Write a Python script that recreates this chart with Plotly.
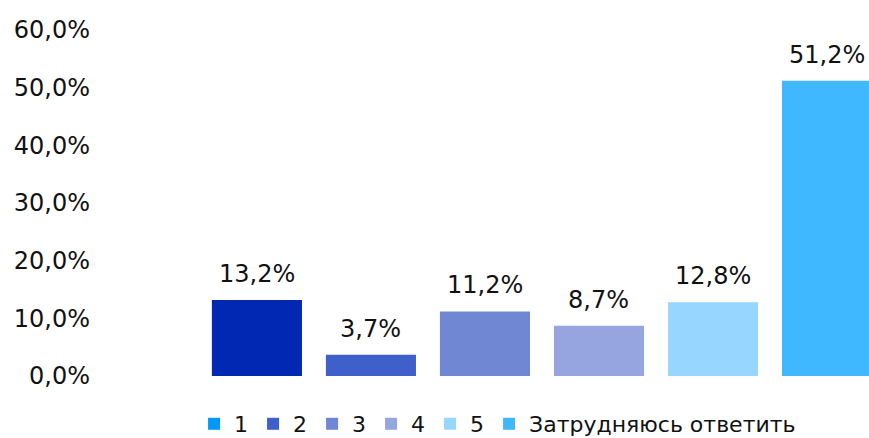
import plotly.graph_objects as go

categories = ["1", "2", "3", "4", "5", "Затрудняюсь ответить"]
values = [13.2, 3.7, 11.2, 8.7, 12.8, 51.2]
value_labels = ["13,2%", "3,7%", "11,2%", "8,7%", "12,8%", "51,2%"]
bar_colors = ["#0028B2", "#3F5FCB", "#7088D4", "#96A5E0", "#96D6FF", "#3FB8FF"]
legend_colors = ["#0099FA", "#3F5FCB", "#7088D4", "#96A5E0", "#96D6FF", "#3FB8FF"]
y_ticks = [0, 10, 20, 30, 40, 50, 60]
y_tick_labels = ["0,0%", "10,0%", "20,0%", "30,0%", "40,0%", "50,0%", "60,0%"]

FONT = "Verdana, DejaVu Sans, sans-serif"

fig = go.Figure()
xs = list(range(len(categories)))
fig.add_trace(go.Bar(x=xs, y=values, marker=dict(color=bar_colors, line=dict(width=0)),
                     width=0.79, showlegend=False, hoverinfo="skip"))
for name, col in zip(categories, legend_colors):
    fig.add_trace(go.Scatter(x=[None], y=[None], mode="markers", name=name,
                             marker=dict(symbol="square", size=13, color=col)))

for x, v, t in zip(xs, values, value_labels):
    fig.add_annotation(x=x, y=v, text=t, showarrow=False, yanchor="bottom",
                       yshift=10, font=dict(family=FONT, size=24, color="#111111"))

fig.update_layout(
    width=869, height=438,
    margin=dict(l=95, r=0, t=30, b=62),
    paper_bgcolor="white", plot_bgcolor="white",
    font=dict(family=FONT, size=24, color="#111111"),
    bargap=0.21,
    xaxis=dict(range=[-1.42, 5.368], showticklabels=False, showgrid=False,
               zeroline=False, showline=False, ticks=""),
    yaxis=dict(range=[0, 60], tickvals=y_ticks, ticktext=y_tick_labels,
               showgrid=False, zeroline=False, showline=False, ticks="",
               ticklabelstandoff=4, tickfont=dict(family=FONT, size=24, color="#111111")),
    legend=dict(orientation="h", x=0.128, xanchor="left",
                yref="container", y=0.032, yanchor="middle",
                font=dict(family=FONT, size=22, color="#111111"),
                itemsizing="constant", tracegroupgap=0, bgcolor="rgba(0,0,0,0)"),
)

fig.write_html("out.html")
